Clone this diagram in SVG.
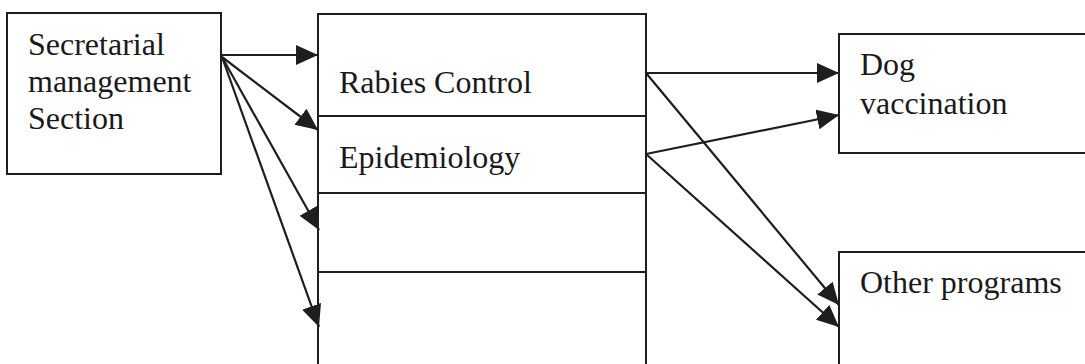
<svg xmlns="http://www.w3.org/2000/svg" width="1085" height="364" viewBox="0 0 1085 364">
  <style>
    .box { fill: #ffffff; stroke: #1e1e1e; stroke-width: 2; }
    .div { stroke: #1e1e1e; stroke-width: 2; }
    .lbl { font-family: "Liberation Serif", "Times New Roman", serif; font-size: 32px; fill: #1a1a1a; }
    .edge { stroke: #1e1e1e; stroke-width: 2.2; fill: none; marker-end: url(#arrow); }
  </style>
  <defs>
    <marker id="arrow" markerUnits="userSpaceOnUse" markerWidth="24" markerHeight="22" refX="22" refY="10" orient="auto">
      <path d="M0,0 L22,10 L0,20 z" fill="#1e1e1e"/>
    </marker>
  </defs>
  <rect width="1085" height="364" fill="#ffffff"/>

  <g id="secretarial">
    <rect class="box" x="7" y="13" width="214" height="161"/>
    <text class="lbl" x="28" y="55">Secretarial</text>
    <text class="lbl" x="28" y="92">management</text>
    <text class="lbl" x="28" y="129">Section</text>
  </g>

  <g id="sections">
    <rect class="box" x="318" y="14" width="328" height="360"/>
    <line class="div" x1="318" y1="116" x2="646" y2="116"/>
    <line class="div" x1="318" y1="193" x2="646" y2="193"/>
    <line class="div" x1="318" y1="272" x2="646" y2="272"/>
    <text class="lbl" x="339" y="93">Rabies Control</text>
    <text class="lbl" x="339" y="168">Epidemiology</text>
  </g>

  <g id="dog-vaccination">
    <rect class="box" x="839" y="34" width="260" height="119"/>
    <text class="lbl" x="860" y="75">Dog</text>
    <text class="lbl" x="860" y="114">vaccination</text>
  </g>

  <g id="other-programs">
    <rect class="box" x="839" y="252" width="260" height="130"/>
    <text class="lbl" x="860" y="293">Other programs</text>
  </g>

  <g id="connectors">
    <line class="edge" x1="221" y1="55" x2="318" y2="55"/>
    <line class="edge" x1="222" y1="57" x2="318" y2="130"/>
    <line class="edge" x1="222" y1="57" x2="319" y2="230"/>
    <line class="edge" x1="222" y1="57" x2="319" y2="327"/>
    <line class="edge" x1="646" y1="73" x2="839" y2="73"/>
    <line class="edge" x1="646" y1="73" x2="839" y2="305"/>
    <line class="edge" x1="646" y1="154" x2="839" y2="115"/>
    <line class="edge" x1="646" y1="154" x2="839" y2="327"/>
  </g>
</svg>
